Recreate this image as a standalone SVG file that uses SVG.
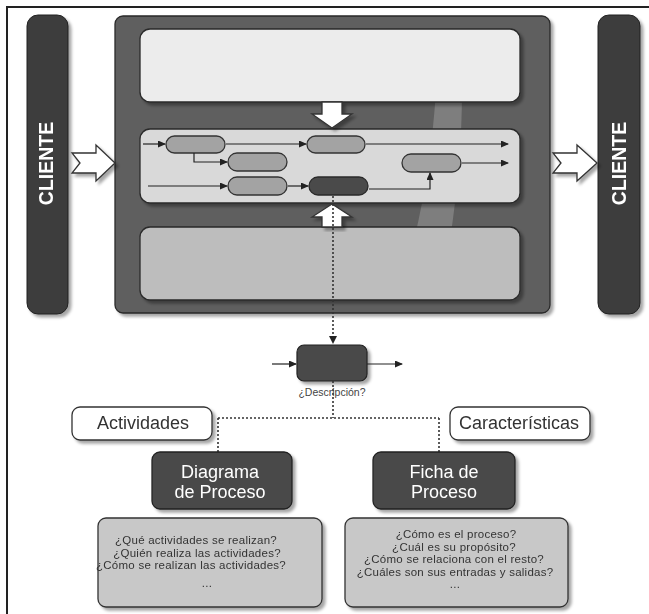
<svg xmlns="http://www.w3.org/2000/svg" width="649" height="614" viewBox="0 0 649 614">
<defs>
<style>
.sans{font-family:"Liberation Sans",Arial,sans-serif}
.cli{font-family:"Liberation Sans",Arial,sans-serif;font-weight:bold;font-size:19.5px;fill:#fff}
.pill{fill:#a3a3a3;stroke:#333;stroke-width:1.3}
.pilld{fill:#4a4a4a;stroke:#2a2a2a;stroke-width:1.3}
.ln{fill:none;stroke:#222;stroke-width:1.2}
.dot{fill:none;stroke:#333;stroke-width:1.6;stroke-dasharray:2 2}
.hollow{fill:#fff;stroke:#333;stroke-width:1.3;stroke-linejoin:miter}
.q{font-family:"Liberation Sans",Arial,sans-serif;font-size:11.5px;letter-spacing:0.25px;fill:#333;text-anchor:middle}
.big{font-family:"Liberation Sans",Arial,sans-serif;font-size:18px;text-anchor:middle}
</style>
<filter id="sh" x="-10%" y="-10%" width="130%" height="130%">
<feDropShadow dx="3" dy="3" stdDeviation="1.5" flood-color="#000" flood-opacity="0.35"/>
</filter>
<marker id="ah" markerWidth="8" markerHeight="7" refX="7" refY="3.5" orient="auto" markerUnits="userSpaceOnUse">
<path d="M0,0 L8,3.5 L0,7 Z" fill="#222"/>
</marker>
</defs>
<rect width="649" height="614" fill="#fff"/>
<path d="M7,614 V7 H649" fill="none" stroke="#222" stroke-width="2"/>

<g id="cliente-izq" filter="url(#sh)">
<rect x="27" y="15" width="41" height="299" rx="11" fill="#3d3d3d" stroke="#222" stroke-width="1"/>
<text class="cli" text-anchor="middle" transform="translate(53,163.5) rotate(-90)">CLIENTE</text>
</g>
<g id="cliente-der" filter="url(#sh)">
<rect x="598" y="15" width="42" height="299" rx="11" fill="#3d3d3d" stroke="#222" stroke-width="1"/>
<text class="cli" text-anchor="middle" transform="translate(626,163.5) rotate(-90)">CLIENTE</text>
</g>

<g id="proceso-principal">
<rect x="115" y="16" width="435" height="297" rx="8" fill="#5e5e5e" stroke="#2a2a2a" stroke-width="1.3" filter="url(#sh)"/>
<path d="M436,90 Q431,170 414,240 L450,240 Q462,160 462,90 Z" fill="#7e7e7e"/>
</g>
<g id="panel-superior">
<rect x="140" y="29" width="380" height="73" rx="10" fill="#ececec" stroke="#2a2a2a" stroke-width="1.3" filter="url(#sh)"/>
</g>
<g id="panel-inferior">
<rect x="140" y="227" width="380" height="73" rx="10" fill="#bdbdbd" stroke="#2a2a2a" stroke-width="1.3" filter="url(#sh)"/>
</g>
<g id="panel-central">
<rect x="140" y="129" width="380" height="74" rx="10" fill="#d9d9d9" stroke="#2a2a2a" stroke-width="1.3" filter="url(#sh)"/>
</g>

<g id="flecha-abajo" filter="url(#sh)">
<polygon class="hollow" points="322,102 342,102 342,114 352,114 332,128 312,114 322,114"/>
</g>
<g id="flecha-arriba" filter="url(#sh)">
<polygon class="hollow" points="322,227 342,227 342,217 352,217 332,204 312,217 322,217"/>
</g>
<g id="flecha-entrada" filter="url(#sh)">
<polygon class="hollow" points="72,153 96,153 96,145 115,163 96,181 96,173 72,173 80,163"/>
</g>
<g id="flecha-salida" filter="url(#sh)">
<polygon class="hollow" points="553,153 577,153 577,145 597,163 577,181 577,173 553,173 561,163"/>
</g>

<g id="actividad-1"><rect class="pill" x="166" y="136" width="59" height="17" rx="8.5"/></g>
<g id="actividad-2"><rect class="pill" x="307" y="136" width="58" height="17" rx="8.5"/></g>
<g id="actividad-3"><rect class="pill" x="228" y="153" width="59" height="18" rx="9"/></g>
<g id="actividad-4"><rect class="pill" x="228" y="177" width="59" height="18" rx="9"/></g>
<g id="actividad-5"><rect class="pilld" x="309" y="177" width="59" height="18" rx="9"/></g>
<g id="actividad-6"><rect class="pill" x="402" y="154" width="59" height="18" rx="9"/></g>

<g id="proceso-detalle" filter="url(#sh)">
<rect x="297" y="345" width="70" height="36" rx="7" fill="#4a4a4a" stroke="#222" stroke-width="1.2"/>
</g>

<g id="connectors">
<path class="ln" d="M143,144 H165" marker-end="url(#ah)"/>
<path class="ln" d="M226,144 H306" marker-end="url(#ah)"/>
<path class="ln" d="M366,144 H508" marker-end="url(#ah)"/>
<path class="ln" d="M194,153 V162 H227" marker-end="url(#ah)"/>
<path class="ln" d="M148,186 H227" marker-end="url(#ah)"/>
<path class="ln" d="M288,186 H308" marker-end="url(#ah)"/>
<path class="ln" d="M369,189 H430 V173" marker-end="url(#ah)"/>
<path class="ln" d="M462,163 H508" marker-end="url(#ah)"/>
<path class="dot" d="M333,196 V343"/>
<path d="M329,336 L333,344 L337,336 Z" fill="#222"/>
<path class="ln" d="M272,364 H296" marker-end="url(#ah)"/>
<path class="ln" d="M367,364 H402" marker-end="url(#ah)"/>
<path class="dot" d="M333,381 V418 M218,418 H439 M218,418 V452 M439,418 V452"/>
</g>

<g id="etiqueta-descripcion">
<text class="sans" x="332" y="396" font-size="10.5" fill="#444" text-anchor="middle">¿Descripción?</text>
</g>

<g id="actividades" filter="url(#sh)">
<rect x="72" y="407" width="140" height="33" rx="8" fill="#fff" stroke="#333" stroke-width="1.3"/>
<text class="big" x="143" y="429" fill="#333">Actividades</text>
</g>
<g id="caracteristicas" filter="url(#sh)">
<rect x="450" y="407" width="140" height="33" rx="8" fill="#fff" stroke="#333" stroke-width="1.3"/>
<text class="big" x="519" y="429" fill="#333">Características</text>
</g>

<g id="diagrama-proceso" filter="url(#sh)">
<rect x="152" y="452" width="140" height="57" rx="8" fill="#4a4a4a" stroke="#222" stroke-width="1.3"/>
<text class="big" x="220" y="477.5" fill="#fff">Diagrama</text>
<text class="big" x="220" y="498" fill="#fff">de Proceso</text>
</g>
<g id="ficha-proceso" filter="url(#sh)">
<rect x="373" y="452" width="142" height="57" rx="8" fill="#4a4a4a" stroke="#222" stroke-width="1.3"/>
<text class="big" x="444" y="477.5" fill="#fff">Ficha de</text>
<text class="big" x="444" y="498" fill="#fff">Proceso</text>
</g>

<g id="preguntas-actividades" filter="url(#sh)">
<rect x="98" y="518" width="224" height="89" rx="8" fill="#c8c8c8" stroke="#333" stroke-width="1.3"/>
<text class="q" x="196" y="544">¿Qué actividades se realizan?</text>
<text class="q" x="197" y="556.5">¿Quién realiza las actividades?</text>
<text class="q" x="191" y="569">¿Cómo se realizan las actividades?</text>
<text class="q" x="207" y="587" font-size="9" fill="#888">...</text>
</g>
<g id="preguntas-caracteristicas" filter="url(#sh)">
<rect x="345" y="518" width="223" height="89" rx="8" fill="#c8c8c8" stroke="#333" stroke-width="1.3"/>
<text class="q" x="456" y="538">¿Cómo es el proceso?</text>
<text class="q" x="454" y="550.5">¿Cuál es su propósito?</text>
<text class="q" x="454" y="563">¿Cómo se relaciona con el resto?</text>
<text class="q" x="455" y="575.5">¿Cuáles son sus entradas y salidas?</text>
<text class="q" x="455" y="588" font-size="9" fill="#888">...</text>
</g>
</svg>
